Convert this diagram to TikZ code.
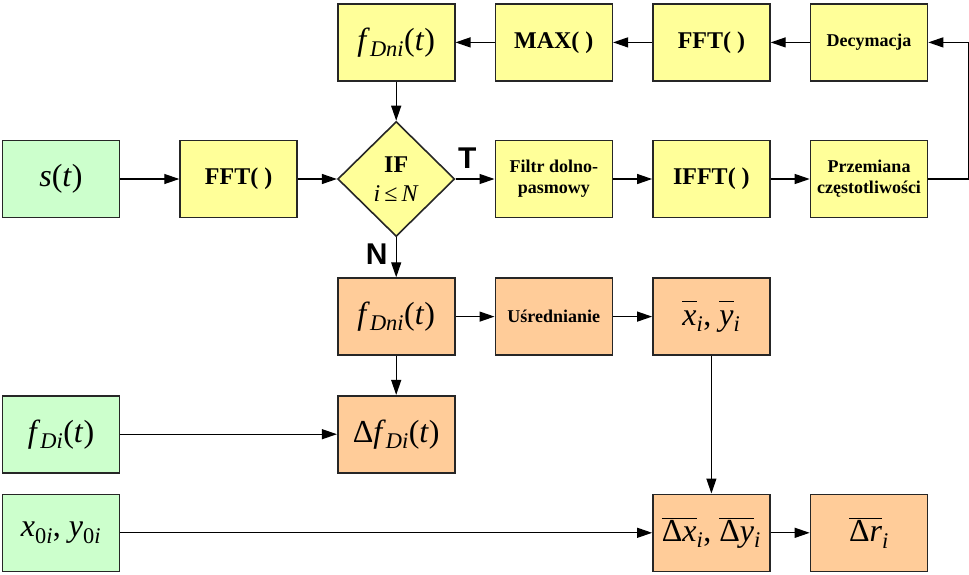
\documentclass[tikz,border=0pt]{standalone}
\usepackage{fontspec}
\setmainfont{Liberation Serif}
\newfontfamily\labelfont{Liberation Sans}
\usetikzlibrary{positioning,shapes.geometric,arrows.meta}

\definecolor{ingreen}{HTML}{CCFFCC}
\definecolor{stepyellow}{HTML}{FFFF99}
\definecolor{outorange}{HTML}{FFCC99}

\newcommand{\vi}[1]{\textit{#1}}
\newcommand{\ovl}[1]{\ensuremath{\overline{\hbox{\vphantom{l}#1}}}}

\begin{document}
\begin{tikzpicture}[x=1pt, y=-1pt, node distance=39pt and 39pt,
    box/.style={rectangle, draw=black!85, line width=1.6pt, minimum width=117pt,
    minimum height=77pt, inner sep=2pt, align=center},
    inbox/.style={box, fill=ingreen, font=\fontsize{32}{36}\selectfont},
    opbox/.style={box, fill=stepyellow, font=\fontsize{24}{28}\selectfont\bfseries},
    smallbox/.style={box, fill=stepyellow, font=\fontsize{18}{21}\selectfont\bfseries},
    mathbox/.style={box, fill=stepyellow, font=\fontsize{32}{36}\selectfont},
    resbox/.style={box, fill=outorange, font=\fontsize{32}{36}\selectfont},
    test/.style={diamond, draw=black!85, line width=1.6pt, fill=stepyellow, aspect=1,
    minimum width=117pt, minimum height=115pt, inner sep=0pt, align=center,
    font=\fontsize{24}{29}\selectfont},
    lbl/.style={inner sep=0pt, font=\fontsize{30}{30}\selectfont\labelfont\bfseries},
    >={Triangle[length=15pt,width=10pt]}, line width=1.2pt]
    \useasboundingbox (0,0) rectangle (969,574);
    % middle row
    \node[inbox] (sig) at (61,179) {\vi{s}(\vi{t})};
    \node[opbox, right=59pt of sig] (fft) {FFT( )};
    \node[test, right=of fft] (cond) {\textbf{IF}\\\vi{i}\,≤\,\vi{N}};
    \node[smallbox, right=of cond] (filtr) {Filtr dolno-\\pasmowy};
    \node[opbox, right=of filtr] (ifft) {IFFT( )};
    \node[smallbox, right=of ifft] (przem) {Przemiana\\częstotliwości};
    % top row
    \node[mathbox, above=39pt of cond] (fdni) {\vi{f}\textsubscript{\vi{Dni}}(\vi{t})};
    \node[opbox, right=of fdni] (maxi) {MAX( )};
    \node[opbox, right=of maxi] (fftb) {FFT( )};
    \node[smallbox, right=of fftb] (decym) {Decymacja};
    % lower rows
    \node[resbox, below=40pt of cond] (fdnib) {\vi{f}\textsubscript{\vi{Dni}}(\vi{t})};
    \node[resbox, font=\fontsize{18}{21}\selectfont\bfseries, right=of fdnib] (usred) {Uśrednianie};
    \node[resbox, right=of usred] (xym) {\ovl{\vi{x}}\textsubscript{\vi{i}}, \ovl{\vi{y}}\textsubscript{\vi{i}}};
    \node[resbox, below=of fdnib] (dfd) {Δ\vi{f}\textsubscript{\vi{Di}}(\vi{t})};
    \node[inbox] (fdi) at (sig |- dfd) {\vi{f}\textsubscript{\vi{Di}}(\vi{t})};
    \node[inbox, below=20pt of fdi] (xy0) {\vi{x}\textsubscript{0\vi{i}}, \vi{y}\textsubscript{0\vi{i}}};
    \node[resbox] (dxy) at (xym |- xy0) {\ovl{Δ\vi{x}}\textsubscript{\vi{i}}, \ovl{Δ\vi{y}}\textsubscript{\vi{i}}};
    \node[resbox, right=of dxy] (dr) {\ovl{Δ\vi{r}}\textsubscript{\vi{i}}};
    \node[lbl, above right=10pt and 2pt of cond.east] (tlab) {T};
    \node[lbl, below left=6pt and 8pt of cond.south] (nlab) {N};
    % connectors
    \draw[->] (sig) -- (fft);
    \draw[->] (fft) -- (cond);
    \draw[->] (cond) -- (filtr);
    \draw[->] (filtr) -- (ifft);
    \draw[->] (ifft) -- (przem);
    \draw[->] (przem.east) -- ++(40pt,0) |- (decym.east);
    \draw[->] (decym) -- (fftb);
    \draw[->] (fftb) -- (maxi);
    \draw[->] (maxi) -- (fdni);
    \draw[->] (fdni) -- (cond);
    \draw[->] (cond) -- (fdnib);
    \draw[->] (fdnib) -- (usred);
    \draw[->] (usred) -- (xym);
    \draw[->] (fdnib) -- (dfd);
    \draw[->] (fdi) -- (dfd);
    \draw[->] (xym) -- (dxy);
    \draw[->] (xy0) -- (dxy);
    \draw[->] (dxy) -- (dr);
\end{tikzpicture}
\end{document}
